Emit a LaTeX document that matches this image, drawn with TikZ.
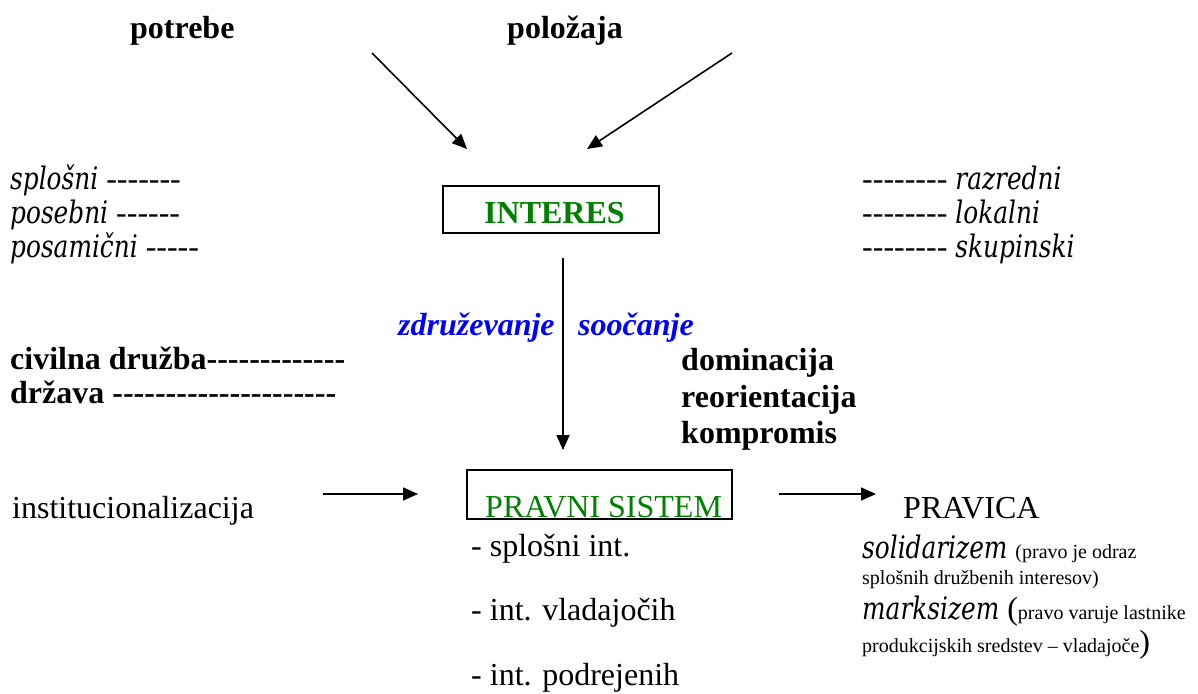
\documentclass[tikz,border=0pt]{standalone}
\usepackage{fontspec}
\setmainfont{Liberation Serif}[Ligatures=TeXOff]
\newfontfamily\itf[FakeStretch=0.8,Ligatures=TeXOff]{DejaVu Serif}
\usetikzlibrary{arrows.meta}
\definecolor{lgreen}{HTML}{008000}
\definecolor{lblue}{HTML}{0000FF}
\tikzset{
  txt/.style={inner sep=0pt, anchor=base west, font=\fontsize{32}{38}\selectfont},
  btxt/.style={txt, font=\fontsize{32}{38}\selectfont\bfseries},
  itxt/.style={txt},
  bluetxt/.style={txt, text=lblue, font=\fontsize{32}{38}\selectfont\bfseries\itshape},
  arr/.style={line width=1.6pt, -{Triangle[length=15pt,width=13pt]}},
  frame/.style={draw, line width=1.6pt, inner sep=0pt},
}
\newcommand{\smalltxt}{\fontsize{20}{24}\selectfont}
\newcommand{\itw}[1]{{\fontsize{31}{36}\selectfont\itf\itshape #1}}
\begin{document}
\begin{tikzpicture}[x=1pt,y=-1pt]
\useasboundingbox (0,0) rectangle (1198,693);
% top
\node[btxt] (potrebe) at (130,38) {potrebe};
\node[btxt] (polozaja) at (507,38) {položaja};
\coordinate (a1s) at (372,53);
\coordinate (a1e) at (467,149);
\coordinate (a2s) at (732,53);
\coordinate (a2e) at (587,149);
\draw[arr] (a1s) -- (a1e);
\draw[arr] (a2s) -- (a2e);
% left italic list
\node[itxt] (spl) at (10,189) {\itw{splošni} -------};
\node[itxt] (pos) at (10,223) {\itw{posebni} ------};
\node[itxt] (psm) at (10,257) {\itw{posamični} -----};
% right italic list
\node[itxt] (raz) at (862,189) {-------- \itw{razredni}};
\node[itxt] (lok) at (862,223) {-------- \itw{lokalni}};
\node[itxt] (sku) at (862,257) {-------- \itw{skupinski}};
% INTERES box
\node[frame, minimum width=216pt, minimum height=47pt] (interes) at (551,209.5) {};
\node[btxt, text=lgreen] (interesT) at (484,223) {INTERES};
% vertical arrow
\coordinate (vs) at (563,258);
\coordinate (ve) at (563,450);
\draw[arr] (vs) -- (ve);
\node[bluetxt] (zdr) at (398,335) {združevanje};
\node[bluetxt] (soo) at (578,335) {soočanje};
% left bold
\node[btxt] (civ) at (10,369) {civilna družba-------------};
\node[btxt] (drz) at (10,403) {država ---------------------};
% right bold
\node[btxt] (dom) at (681,370) {dominacija};
\node[btxt] (reo) at (681,407) {reorientacija};
\node[btxt] (kom) at (681,443) {kompromis};
% bottom row
\node[txt] (inst) at (12,518) {institucionalizacija};
\coordinate (b1s) at (323,494);
\coordinate (b1e) at (418,494);
\draw[arr] (b1s) -- (b1e);
\node[frame, minimum width=265pt, minimum height=49pt] (pravni) at (599.5,494.5) {};
\node[txt, text=lgreen] (pravniT) at (485,517) {PRAVNI SISTEM};
\coordinate (b2s) at (779,494);
\coordinate (b2e) at (876,494);
\draw[arr] (b2s) -- (b2e);
\node[txt] (pravica) at (903,518) {PRAVICA};
% list under PRAVNI SISTEM
\node[txt] (l1) at (471,556) {- splošni int.};
\node[txt] (l2) at (471,620) {- int. vladajočih};
\node[txt] (l3) at (471,685) {- int. podrejenih};
% PRAVICA theories
\node[txt] (sol) at (862,558) {\itw{solidarizem} {\smalltxt(pravo je odraz}};
\node[txt] (sol2) at (862,584) {\smalltxt splošnih družbenih interesov)};
\node[txt] (mar) at (862,619) {\itw{marksizem} ({\smalltxt pravo varuje lastnike}};
\node[txt] (mar2) at (862,652) {{\smalltxt produkcijskih sredstev – vladajoče})};
\end{tikzpicture}
\end{document}
